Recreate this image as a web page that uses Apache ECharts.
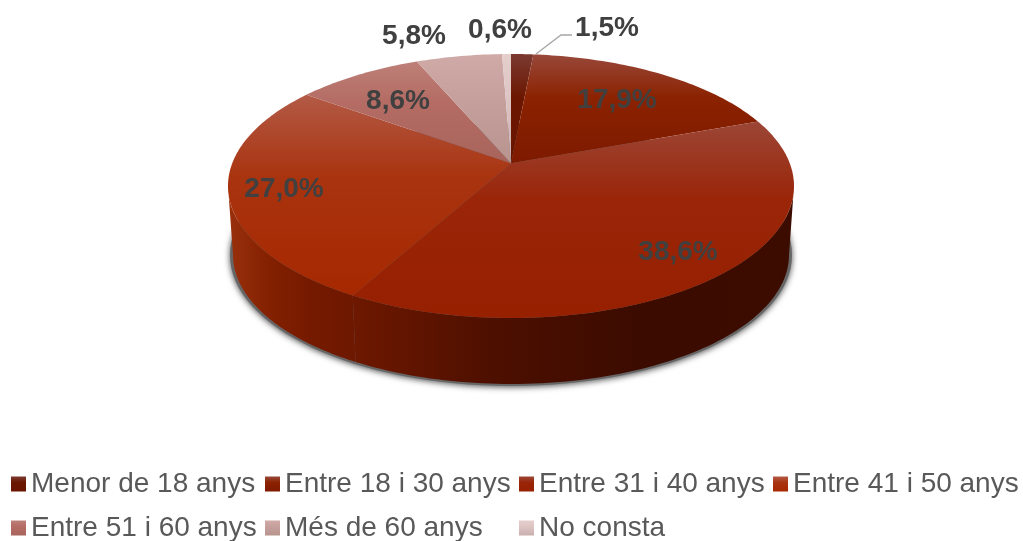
<!DOCTYPE html>
<html><head><meta charset="utf-8">
<style>html,body{margin:0;padding:0;background:#fff}#c{width:1023px;height:541px}</style>
<script src="https://cdn.jsdelivr.net/npm/echarts@6/dist/echarts.min.js"></script>
</head><body><div id="c"></div>
<script>
const categories = ['Menor de 18 anys','Entre 18 i 30 anys','Entre 31 i 40 anys','Entre 41 i 50 anys','Entre 51 i 60 anys','Més de 60 anys','No consta'];
const values = [1.5, 17.9, 38.6, 27.0, 8.6, 5.8, 0.6];

// layout and styling (not data)
const TOP = {cx:511, cy:186, rx:283, ry:132};
const BASE = {cx:511, cy:255, rx:278, ry:129};
const K = 0.84; // perspective of the tilted disc
const topColors = [
  ['#7c3a32','#6b1700','#6a1400'],
  ['#98483a','#8b2200','#7e1a00'],
  ['#9c4636','#9a2508','#962000'],
  ['#b35a46','#a93410','#a62800'],
  ['#bd8078','#b46c64','#a8645c'],
  ['#cfaaa6','#c6a09c','#b8948f'],
  ['#e4cfcd','#ddc5c3','#c9b0ae']
];
const wallColors = {2:['#6e1800','#4c0f00','#3b0b00','#3d0c00'], 3:['#9a300c','#822000','#741a00','#6e1800']};
const labelPos = [[607,28],[617,100],[678,252],[284,189],[398,101],[414,36],[500,30]];
const legendPos = [[11,470],[265,470],[519,470],[773,470],[11,514],[265,514],[519,514]];

const hGrad = cs => new echarts.graphic.LinearGradient(0,0,1,0,cs.map((c,j)=>({offset:j/(cs.length-1),color:c})));
const topGrad = c => new echarts.graphic.LinearGradient(0,0,0,1,[{offset:0,color:c[0]},{offset:.4,color:c[1]},{offset:1,color:c[2]}]);

const total = values.reduce((a,b)=>a+b,0);
const toT = phi => 2*Math.atan2(K*Math.sin(phi/2), Math.cos(phi/2));  // disc angle -> ellipse parameter
const unwrap = (t,ref)=>{while(t<ref-1e-6)t+=2*Math.PI;return t;};
const pt = (e,t)=>[e.cx+e.rx*Math.sin(t), e.cy-e.ry*Math.cos(t)];
const apex = [TOP.cx, TOP.cy-TOP.ry*(1-K*K)/(1+K*K)];

function arc(e,a,b,n){const out=[];for(let i=0;i<=n;i++)out.push(pt(e,a+(b-a)*i/n));return out;}
const fmt = v => v.toFixed(1).replace('.',',')+'%';

let cum=0;
const ranges = values.map(v=>{const a=cum/total*2*Math.PI;cum+=v;const b=cum/total*2*Math.PI;
  const ta=unwrap(toT(a),0),tb=unwrap(toT(b),ta);return [ta,tb];});

function renderSlice(i){
  return function(params,api){
    const v=api.value(0), [ta,tb]=ranges[i], kids=[];
    const lo=Math.max(ta,Math.PI/2), hi=Math.min(tb,Math.PI*1.5);
    if(hi>lo && wallColors[i]){
      const f=arc(TOP,lo,hi,80), g=arc(BASE,lo,hi,80).reverse();
      const w=wallColors[i];
      kids.push({type:'polygon',shape:{points:f.concat(g)},style:{fill:hGrad(w)}});
    }
    const poly=[apex].concat(arc(TOP,ta,tb,Math.max(8,Math.ceil((tb-ta)*60))));
    kids.push({type:'polygon',shape:{points:poly},style:{fill:topGrad(topColors[i])}});
    kids.push({type:'text',z2:100,style:{text:fmt(v),x:labelPos[i][0],y:labelPos[i][1],align:'center',verticalAlign:'middle',
      font:'bold 28px "Liberation Sans", Arial, sans-serif',fill:'#404040'}});
    if(i===0){
      kids.push({type:'polyline',z2:90,shape:{points:[[536,54],[561,35],[572,35]]},style:{stroke:'#a6a6a6',lineWidth:1.3,fill:null}});
    }
    return {type:'group',children:kids};
  };
}

const series=[{
  type:'custom',name:'_shadow',coordinateSystem:'none',silent:true,data:[[1]],
  renderItem:()=>({type:'ellipse',shape:{cx:511,cy:255,rx:281,ry:131},
    style:{fill:'#666666',shadowBlur:6,shadowOffsetY:1,shadowColor:'rgba(0,0,0,0.7)'}})
}];
categories.forEach((name,i)=>{
  series.push({type:'custom',name,coordinateSystem:'none',silent:true,data:[[values[i]]],
    itemStyle:{color:topGrad(topColors[i])},renderItem:renderSlice(i)});
});

const chart=echarts.init(document.getElementById('c'),null,{renderer:'canvas'});
chart.setOption({
  animation:false,backgroundColor:'#fff',tooltip:{show:false},
  legend:categories.map((name,i)=>({
    data:[name],left:legendPos[i][0],top:legendPos[i][1],padding:0,icon:'rect',itemWidth:15,itemHeight:15,
    selectedMode:false,itemStyle:{color:topGrad(topColors[i])},textStyle:{fontFamily:'"Liberation Sans", Arial, sans-serif',fontSize:28,color:'#595959',padding:[0,0,0,0]}
  })),
  series
});
</script></body></html>
